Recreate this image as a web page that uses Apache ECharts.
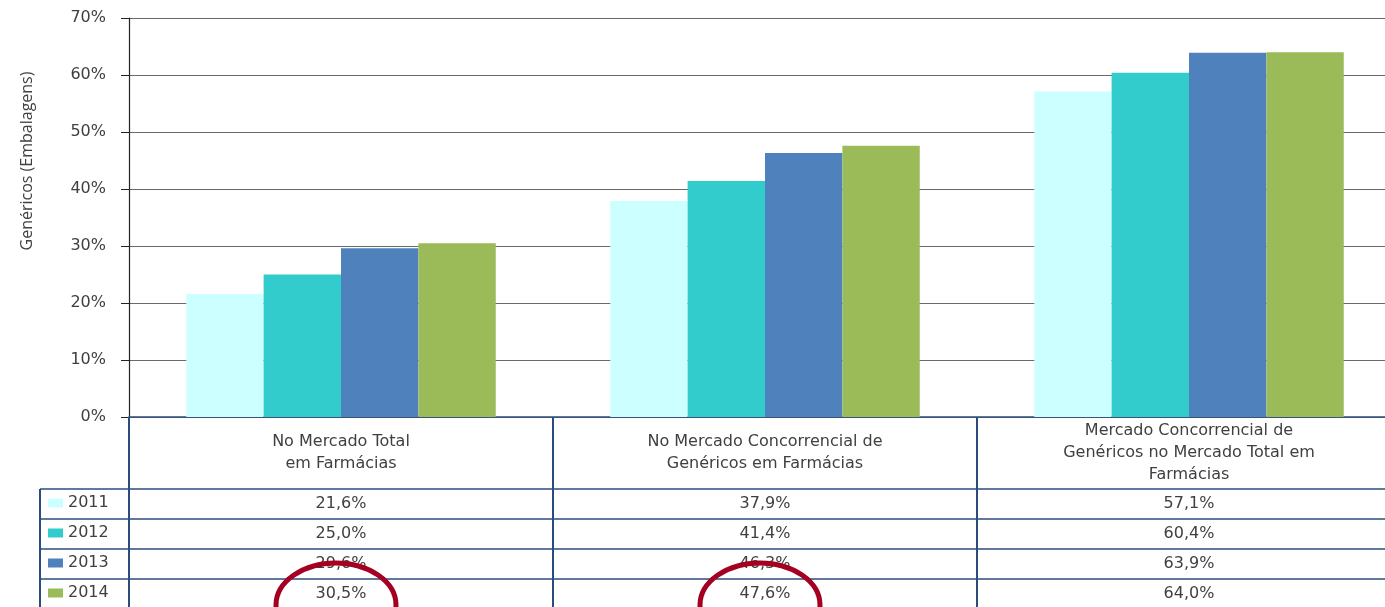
<!DOCTYPE html>
<html><head><meta charset="utf-8">
<script src="https://cdn.jsdelivr.net/npm/echarts@6/dist/echarts.min.js"></script>
<style>html,body{margin:0;padding:0;background:#fff;overflow:hidden;} #c{width:1385px;height:607px;}</style>
</head><body><div id="c"></div>
<script>
// ---- data ----
const categories = [
  'No Mercado Total\nem Farmácias',
  'No Mercado Concorrencial de\nGenéricos em Farmácias',
  'Mercado Concorrencial de\nGenéricos no Mercado Total em\nFarmácias'
];
const years = ['2011', '2012', '2013', '2014'];
const v2011 = [21.6, 37.9, 57.1];
const v2012 = [25.0, 41.4, 60.4];
const v2013 = [29.6, 46.3, 63.9];
const v2014 = [30.5, 47.6, 64.0];
const yMin = 0, yMax = 70, yStep = 10;
const yTitle = 'Genéricos (Embalagens)';
const circled = [[3, 0], [3, 1]]; // [series index, category index]

// ---- styling / layout ----
const values = [v2011, v2012, v2013, v2014];
const colors = ['#CCFFFF', '#33CCCC', '#4F81BD', '#9BBB59'];
const navy = '#2b4c7e';
const txt = '#404040';
const font = 'DejaVu Sans';
const fs = 16;
const gridLeft = 129, gridTop = 18, gridBottom = 190, gridWidth = 1272;
const headerH = 72, rowH = 30;
const fmt = v => v.toFixed(1).replace('.', ',') + '%';

const chart = echarts.init(document.getElementById('c'));

const xAxes = [{
  type: 'category', data: categories, gridIndex: 0, position: 'bottom',
  axisLine: { lineStyle: { color: navy, width: 1.5 } },
  axisTick: { show: true, length: gridBottom, lineStyle: { color: navy, width: 2 } },
  axisLabel: { interval: 0, margin: headerH / 2, verticalAlign: 'middle', align: 'center',
    fontFamily: font, fontSize: fs, color: txt, lineHeight: 22 },
  splitLine: { show: false }
}];
values.forEach((vals, i) => {
  xAxes.push({
    type: 'category', data: categories, gridIndex: 0, position: 'bottom',
    offset: headerH + rowH * i,
    axisLine: { lineStyle: { color: navy, width: 1.5 } },
    axisTick: { show: false },
    axisLabel: { interval: 0, margin: rowH / 2, verticalAlign: 'middle',
      fontFamily: font, fontSize: fs, color: txt,
      formatter: (v, idx) => fmt(vals[idx]) },
    splitLine: { show: false }
  });
});

chart.setOption({
  animation: false,
  grid: { left: gridLeft, top: gridTop, bottom: gridBottom, width: gridWidth,
    containLabel: false, outerBoundsMode: 'none' },
  legend: {
    orient: 'vertical', left: 48, top: 495, padding: 0,
    data: years, icon: 'rect', itemWidth: 15, itemHeight: 9, itemGap: 14,
    textStyle: { fontFamily: font, fontSize: fs, color: txt, lineHeight: 16 }
  },
  xAxis: xAxes,
  yAxis: {
    type: 'value', min: yMin, max: yMax, interval: yStep,
    axisLine: { show: true, lineStyle: { color: '#222', width: 1.2 } },
    axisTick: { show: true, length: 8, lineStyle: { color: '#222' } },
    axisLabel: { formatter: '{value}%', margin: 23, fontFamily: font, fontSize: fs, color: txt },
    splitLine: { lineStyle: { color: '#6a6a6a', width: 1.2 } }
  },
  series: years.map((y, i) => ({
    name: y, type: 'bar', data: values[i], xAxisIndex: 0,
    barGap: '0%', barCategoryGap: '27%',
    itemStyle: { color: colors[i] }
  }))
});

// table frame for the legend column, axis title and the highlighted cells
const y0 = chart.convertToPixel({ yAxisIndex: 0 }, yMin);
const tableLeft = 40;
const graphics = [];
for (let i = 0; i < values.length; i++) {
  const y = y0 + headerH + rowH * i;
  graphics.push({ type: 'line', shape: { x1: tableLeft, y1: y, x2: gridLeft, y2: y },
    style: { stroke: navy, lineWidth: 1.5 }, z: 5 });
}
graphics.push({ type: 'line', shape: { x1: tableLeft, y1: y0 + headerH, x2: tableLeft, y2: 607 },
  style: { stroke: navy, lineWidth: 2 }, z: 5 });
graphics.push({ type: 'text', x: 27, y: 161, rotation: Math.PI / 2,
  style: { text: yTitle, fontFamily: 'Open Sans', fontSize: 16, fill: txt, align: 'center', verticalAlign: 'middle' } });
circled.forEach(([s, c]) => {
  const cx = chart.convertToPixel({ xAxisIndex: 0 }, categories[c]) - 5;
  const cy = y0 + headerH + rowH * s + 26;
  graphics.push({ type: 'ellipse', shape: { cx: cx, cy: cy, rx: 60, ry: 42 },
    style: { fill: null, stroke: '#A50021', lineWidth: 5 }, z: 10 });
});
chart.setOption({ graphic: graphics });
</script></body></html>
